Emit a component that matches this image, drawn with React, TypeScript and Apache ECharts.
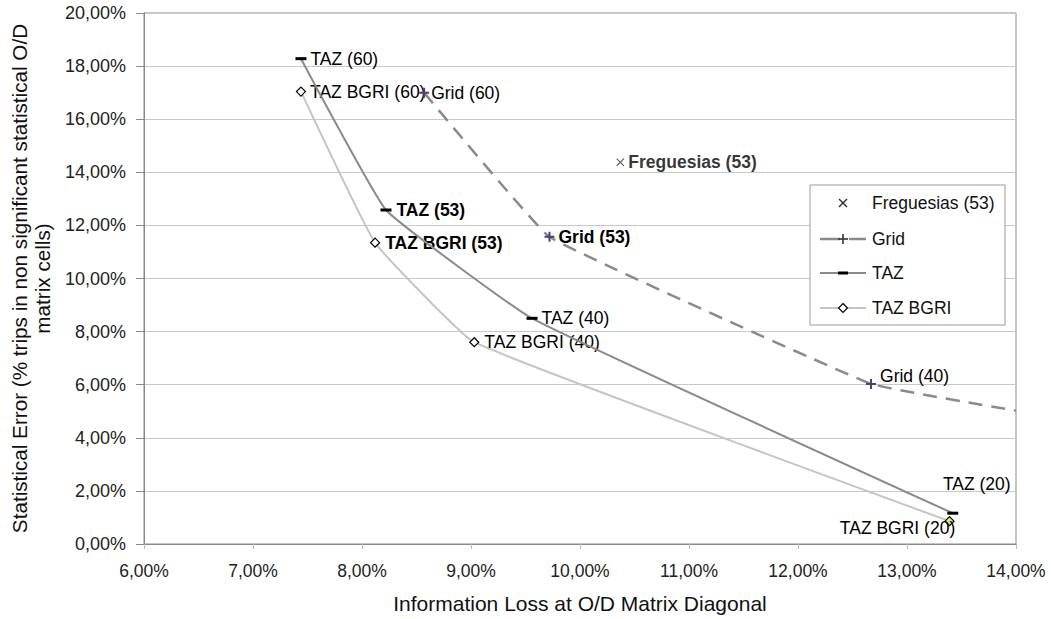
import React, { useEffect, useRef } from 'react';
import * as echarts from 'echarts';

// ---- Data ----
const tazNames = ['TAZ (60)', 'TAZ (53)', 'TAZ (40)', 'TAZ (20)'];
const tazLoss = [7.44, 8.22, 9.56, 13.42];
const tazError = [18.28, 12.58, 8.5, 1.16];

const bgriNames = ['TAZ BGRI (60)', 'TAZ BGRI (53)', 'TAZ BGRI (40)', 'TAZ BGRI (20)'];
const bgriLoss = [7.44, 8.12, 9.03, 13.39];
const bgriError = [17.04, 11.35, 7.6, 0.86];

const gridNames = ['Grid (60)', 'Grid (53)', 'Grid (40)', ''];
const gridLoss = [8.57, 9.72, 12.67, 14.0];
const gridError = [17.0, 11.57, 6.03, 5.02];

const fregNames = ['Freguesias (53)'];
const fregLoss = [10.37];
const fregError = [14.38];

const legendNames = ['Freguesias (53)', 'Grid', 'TAZ', 'TAZ BGRI'];

const xMin = 6, xMax = 14, xStep = 1;
const yMin = 0, yMax = 20, yStep = 2;

const xTitle = 'Information Loss at O/D Matrix Diagonal';
const yTitle = 'Statistical Error (% trips in non significant statistical O/D\nmatrix cells)';

// ---- Styling ----
const FONT = '"Liberation Sans", Arial, sans-serif';
const FS = 17.5;

const labelPlacement: Record<string, any> = {
  'TAZ (60)': { position: 'right', distance: 4 },
  'TAZ (53)': { position: 'right', distance: 5, fontWeight: 'bold' },
  'TAZ (40)': { position: 'right', distance: 4 },
  'TAZ (20)': { position: 'inside', offset: [24, -29] },
  'TAZ BGRI (60)': { position: 'right', distance: 4 },
  'TAZ BGRI (53)': { position: 'right', distance: 5, fontWeight: 'bold' },
  'TAZ BGRI (40)': { position: 'right', distance: 5 },
  'TAZ BGRI (20)': { position: 'inside', offset: [-52, 7] },
  'Grid (60)': { position: 'right', distance: 2 },
  'Grid (53)': { position: 'right', distance: 4, fontWeight: 'bold' },
  'Grid (40)': { position: 'right', distance: 4, offset: [0, -8] },
  'Freguesias (53)': { position: 'right', distance: 4, fontWeight: 'bold' },
};

const PLUS = 'path://M4,0H6V4H10V6H6V10H4V6H0V4H4Z';
const CROSS = 'path://M1,0L5,4L9,0L10,1L6,5L10,9L9,10L5,6L1,10L0,9L4,5L0,1Z';

function pct(v: number) {
  return v.toFixed(2).replace('.', ',') + '%';
}

function buildPoints(names: string[], xs: number[], ys: number[]) {
  return names.map((n, i) => {
    if (!n) {
      return { name: '', value: [xs[i], ys[i]], symbol: 'none', label: { show: false } };
    }
    const p = labelPlacement[n] || { position: 'right' };
    return {
      name: n,
      value: [xs[i], ys[i]],
      label: {
        show: true,
        formatter: '{b}',
        color: '#000',
        fontFamily: FONT,
        fontSize: FS,
        ...p,
      },
    };
  });
}

export default function App() {
  const ref = useRef<HTMLDivElement>(null);

  useEffect(() => {
    if (!ref.current) return;
    const chart = echarts.init(ref.current, undefined, { renderer: 'svg' });

    const bgriData: any[] = buildPoints(bgriNames, bgriLoss, bgriError);
    bgriData[3].itemStyle = { color: '#dfe58a', borderColor: '#000', borderWidth: 1.2 };

    // custom legend drawn with graphic elements
    const lgX = 810, lgY = 185, lgW = 195, lgH = 140;
    const rowY = [203, 239, 273, 308];
    const textX = 872;
    const iconL = 820, iconR = 866, iconC = 843;
    const legendGraphic: any[] = [
      { type: 'rect', shape: { x: lgX, y: lgY, width: lgW, height: lgH }, style: { fill: '#fff', stroke: '#9a9a9a', lineWidth: 1 }, z: 50 },
      // Freguesias ×
      { type: 'line', shape: { x1: iconC - 4, y1: rowY[0] - 4, x2: iconC + 4, y2: rowY[0] + 4 }, style: { stroke: '#333', lineWidth: 1.4 }, z: 51 },
      { type: 'line', shape: { x1: iconC - 4, y1: rowY[0] + 4, x2: iconC + 4, y2: rowY[0] - 4 }, style: { stroke: '#333', lineWidth: 1.4 }, z: 51 },
      // Grid
      { type: 'line', shape: { x1: iconL, y1: rowY[1], x2: iconC - 3, y2: rowY[1] }, style: { stroke: '#8a8a8a', lineWidth: 2.5 }, z: 51 },
      { type: 'line', shape: { x1: iconC + 6, y1: rowY[1], x2: iconR, y2: rowY[1] }, style: { stroke: '#8a8a8a', lineWidth: 2.5 }, z: 51 },
      { type: 'line', shape: { x1: iconC - 5, y1: rowY[1], x2: iconC + 5, y2: rowY[1] }, style: { stroke: '#333', lineWidth: 1.6 }, z: 52 },
      { type: 'line', shape: { x1: iconC, y1: rowY[1] - 5, x2: iconC, y2: rowY[1] + 5 }, style: { stroke: '#333', lineWidth: 1.6 }, z: 52 },
      // TAZ
      { type: 'line', shape: { x1: iconL, y1: rowY[2], x2: iconR, y2: rowY[2] }, style: { stroke: '#8a8a8a', lineWidth: 2 }, z: 51 },
      { type: 'rect', shape: { x: iconC - 5, y: rowY[2] - 1.5, width: 10, height: 3 }, style: { fill: '#000' }, z: 52 },
      // TAZ BGRI
      { type: 'line', shape: { x1: iconL, y1: rowY[3], x2: iconR, y2: rowY[3] }, style: { stroke: '#c4c4c4', lineWidth: 2 }, z: 51 },
      { type: 'polygon', shape: { points: [[iconC, rowY[3] - 4.5], [iconC + 4.5, rowY[3]], [iconC, rowY[3] + 4.5], [iconC - 4.5, rowY[3]]] }, style: { fill: '#fff', stroke: '#000', lineWidth: 1.2 }, z: 52 },
    ];
    legendNames.forEach((n, i) => {
      legendGraphic.push({
        type: 'text', x: textX, y: rowY[i], z: 53,
        style: { text: n, fontSize: FS, fontFamily: FONT, fill: '#111', verticalAlign: 'middle', align: 'left' },
      });
    });

    const option: any = {
      animation: false,
      backgroundColor: '#fff',
      grid: {
        left: 141, right: 35, top: 13, bottom: 72,
        show: true, borderColor: '#8a8a8a', borderWidth: 1, backgroundColor: 'transparent',
      },
      xAxis: {
        type: 'value', min: xMin, max: xMax, interval: xStep,
        name: xTitle, nameLocation: 'middle', nameGap: 49,
        nameTextStyle: { fontFamily: FONT, fontSize: 21, color: '#111' },
        axisLine: { show: true, lineStyle: { color: '#8a8a8a', width: 1 } },
        axisTick: { show: true, length: 5, lineStyle: { color: '#bbb' } },
        axisLabel: { formatter: (v: number) => pct(v), fontFamily: FONT, fontSize: FS, color: '#222', margin: 18 },
        splitLine: { show: false },
      },
      yAxis: {
        type: 'value', min: yMin, max: yMax, interval: yStep,
        name: yTitle, nameLocation: 'middle', nameGap: 90, nameRotate: 90,
        nameTextStyle: { fontFamily: FONT, fontSize: 20.7, color: '#111', lineHeight: 23, align: 'center' },
        axisLine: { show: true, lineStyle: { color: '#8a8a8a', width: 1 } },
        axisTick: { show: true, length: 8, lineStyle: { color: '#8a8a8a' } },
        axisLabel: { formatter: (v: number) => pct(v), fontFamily: FONT, fontSize: 18, color: '#222', margin: 18 },
        splitLine: { show: true, lineStyle: { color: '#c8c8c8', width: 1 } },
      },
      graphic: legendGraphic,
      series: [
        {
          name: 'TAZ BGRI', type: 'line', smooth: 0.1,
          data: bgriData,
          symbol: 'diamond', symbolSize: 9,
          itemStyle: { color: '#fff', borderColor: '#000', borderWidth: 1.2 },
          lineStyle: { color: '#c4c4c4', width: 2 },
          z: 3,
        },
        {
          name: 'TAZ', type: 'line', smooth: 0.1,
          data: buildPoints(tazNames, tazLoss, tazError),
          symbol: 'rect', symbolSize: [11, 3],
          itemStyle: { color: '#000' },
          lineStyle: { color: '#8a8a8a', width: 2 },
          z: 4,
        },
        {
          name: 'Grid', type: 'line', smooth: 0.08,
          data: buildPoints(gridNames, gridLoss, gridError),
          symbol: PLUS, symbolSize: 10,
          itemStyle: { color: '#4a3f78' },
          lineStyle: { color: '#8a8a8a', width: 2.5, type: [14, 9] },
          z: 5,
        },
        {
          name: 'Freguesias (53)', type: 'scatter',
          data: buildPoints(fregNames, fregLoss, fregError),
          symbol: CROSS, symbolSize: 8,
          itemStyle: { color: '#333' },
          z: 6,
        },
      ],
    };

    chart.setOption(option);
    return () => chart.dispose();
  }, []);

  return (
    <div
      ref={ref}
      style={{ position: 'absolute', left: 0, top: 0, width: 1051, height: 619 }}
    />
  );
}
